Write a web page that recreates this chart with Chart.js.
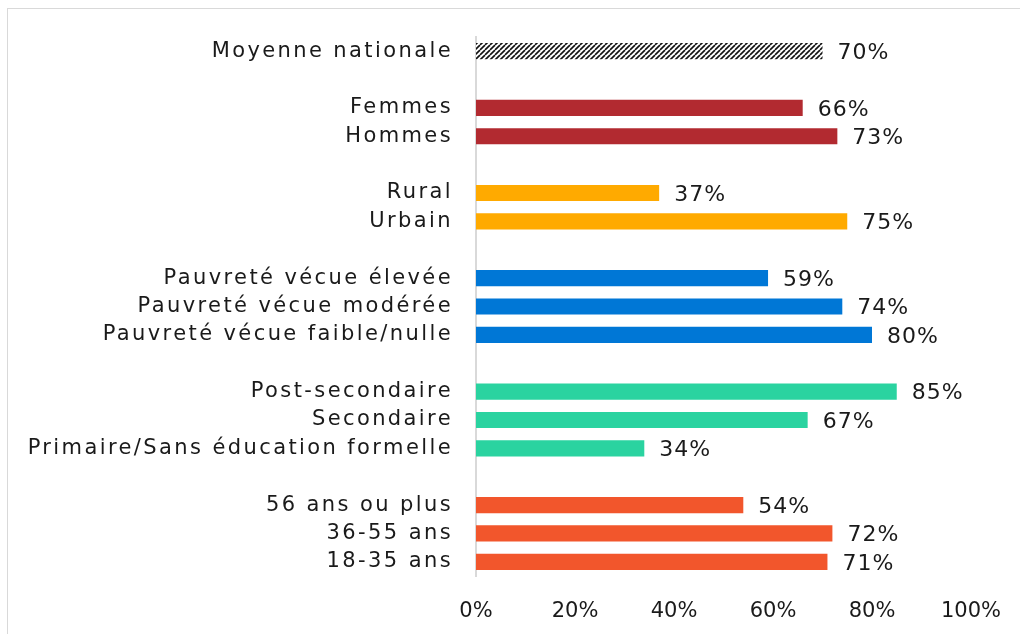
<!DOCTYPE html>
<html>
<head>
<meta charset="utf-8">
<script src="https://cdn.jsdelivr.net/npm/chart.js@4"></script>
<style>
  html, body { margin: 0; padding: 0; background: #fff; overflow: hidden; }
  #frame { position: absolute; left: 7px; top: 8px; width: 1030px; height: 650px; border: 1px solid #d9d9d9; border-right: none; border-bottom: none; }
  #chart { position: absolute; left: 0; top: 0; }
</style>
</head>
<body>
<div id="frame"></div>
<canvas id="chart" width="1020" height="634"></canvas>
<script>
const categories = [
  "Moyenne nationale", "",
  "Femmes", "Hommes", "",
  "Rural", "Urbain", "",
  "Pauvreté vécue élevée", "Pauvreté vécue modérée", "Pauvreté vécue faible/nulle", "",
  "Post-secondaire", "Secondaire", "Primaire/Sans éducation formelle", "",
  "56 ans ou plus", "36-55 ans", "18-35 ans"
];
const values = [
  70, null,
  66, 73, null,
  37, 75, null,
  59, 74, 80, null,
  85, 67, 34, null,
  54, 72, 71
];
const groupOf = [0, 0, 1, 1, 1, 2, 2, 2, 3, 3, 3, 3, 4, 4, 4, 4, 5, 5, 5];
const xTicks = [0, 20, 40, 60, 80, 100];

const FONT = "'DejaVu Sans', sans-serif";

const makeHatch = () => {
  const c = document.createElement("canvas");
  c.width = 5;
  c.height = 5;
  const g = c.getContext("2d");
  g.fillStyle = "#ffffff";
  g.fillRect(0, 0, 5, 5);
  g.strokeStyle = "#111111";
  g.lineWidth = 1.6;
  for (let k = -5; k <= 10; k += 5) {
    g.beginPath();
    g.moveTo(k, 5);
    g.lineTo(k + 5, 0);
    g.stroke();
  }
  return g.createPattern(c, "repeat");
};

const ctx = document.getElementById("chart").getContext("2d");
const groupColors = [makeHatch(), "#b22a30", "#ffaa00", "#0077d6", "#2ad3a0", "#f2562c"];

// wide look for the category labels only (y ticks are drawn before datasets, x ticks after)
const labelSpacing = {
  id: "labelSpacing",
  beforeDraw(chart) {
    chart.ctx.letterSpacing = "2.4px";
  },
  beforeDatasetsDraw(chart) {
    chart.ctx.letterSpacing = "0px";
  },
};

const valueLabels = {
  id: "valueLabels",
  afterDatasetsDraw(chart) {
    const c = chart.ctx;
    const meta = chart.getDatasetMeta(0);
    c.save();
    c.font = "22px " + FONT;
    c.letterSpacing = "1px";
    c.fillStyle = "#1a1a1a";
    c.textAlign = "left";
    c.textBaseline = "middle";
    meta.data.forEach((bar, i) => {
      const v = values[i];
      if (v === null) return;
      c.fillText(v + "%", bar.x + 15, bar.y + 2);
    });
    c.restore();
  },
};

new Chart(ctx, {
  type: "bar",
  data: {
    labels: categories,
    datasets: [
      {
        data: values,
        backgroundColor: groupOf.map((g) => groupColors[g]),
        categoryPercentage: 1,
        barPercentage: 0.57,
      },
    ],
  },
  options: {
    indexAxis: "y",
    responsive: false,
    animation: false,
    layout: { padding: { top: 37, right: 49, left: 0, bottom: 0 } },
    plugins: {
      legend: { display: false },
      tooltip: { enabled: false },
    },
    scales: {
      x: {
        min: 0,
        max: 100,
        afterBuildTicks: (scale) => {
          scale.ticks = xTicks.map((v) => ({ value: v }));
        },
        afterFit: (scale) => {
          scale.height = 58;
          scale.paddingLeft = 0;
          scale.paddingRight = 0;
        },
        grid: { display: false, drawTicks: false },
        border: { display: false },
        ticks: {
          z: 1,
          padding: 23,
          color: "#1a1a1a",
          font: { family: FONT, size: 21 },
          callback: (v) => v + "%",
        },
      },
      y: {
        afterFit: (scale) => {
          scale.width = 476;
        },
        grid: { display: false, drawTicks: false },
        border: { display: true, color: "#d9d9d9", width: 2 },
        ticks: {
          padding: 23,
          color: "#1a1a1a",
          autoSkip: false,
          font: { family: FONT, size: 21 },
        },
      },
    },
  },
  plugins: [labelSpacing, valueLabels],
});
</script>
</body>
</html>
